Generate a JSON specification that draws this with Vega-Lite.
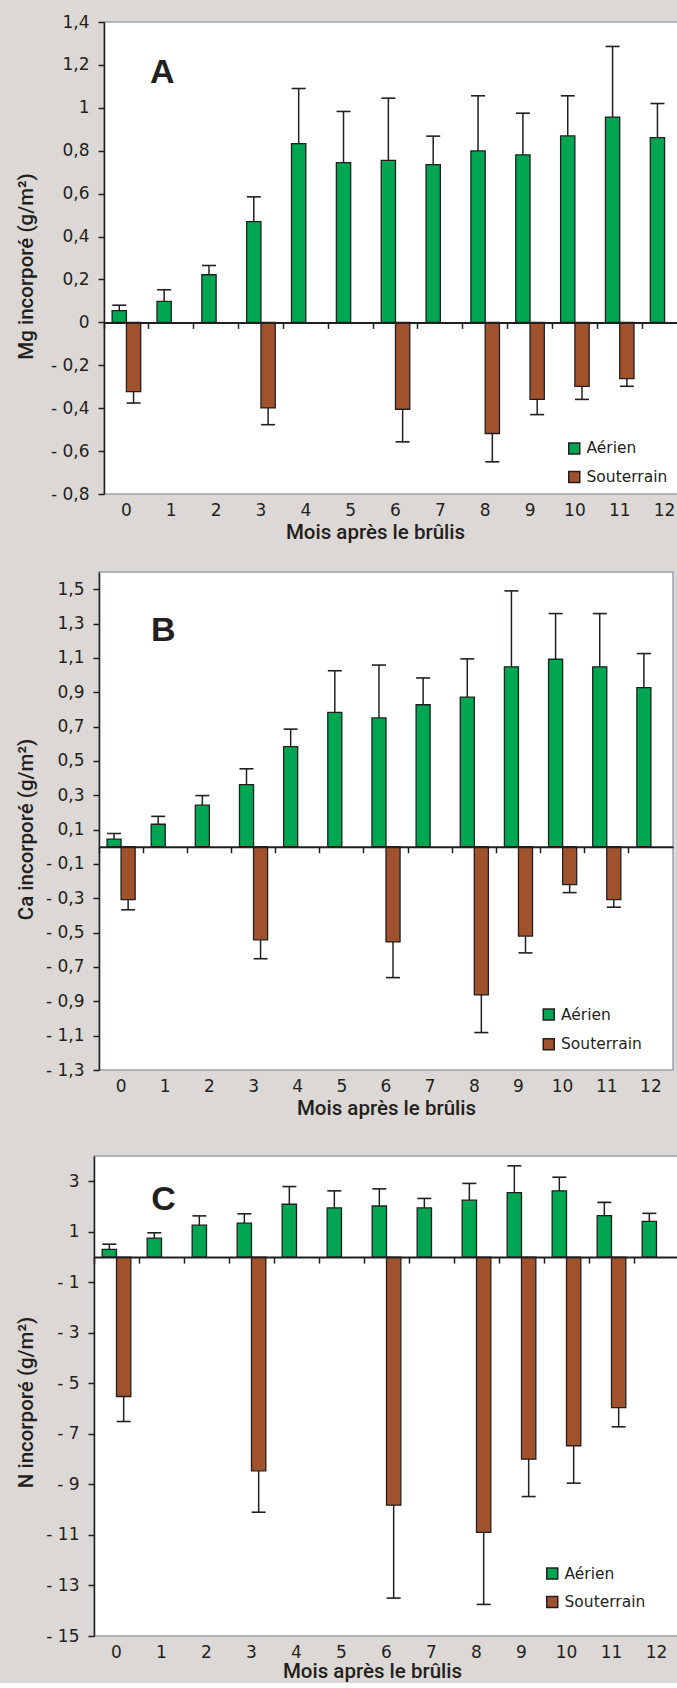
{
  "$schema": "https://vega.github.io/schema/vega-lite/v6.json",
  "background": "#dcd8d5",
  "padding": {"left": 0, "top": 12, "right": 0, "bottom": 0},
  "datasets": {
    "A": [
      {"month": 0, "type": "Aérien", "value": 0.055, "errEnd": 0.08},
      {"month": 1, "type": "Aérien", "value": 0.098, "errEnd": 0.152},
      {"month": 2, "type": "Aérien", "value": 0.222, "errEnd": 0.265},
      {"month": 3, "type": "Aérien", "value": 0.47, "errEnd": 0.585},
      {"month": 4, "type": "Aérien", "value": 0.833, "errEnd": 1.09},
      {"month": 5, "type": "Aérien", "value": 0.745, "errEnd": 0.983},
      {"month": 6, "type": "Aérien", "value": 0.755, "errEnd": 1.045},
      {"month": 7, "type": "Aérien", "value": 0.735, "errEnd": 0.868},
      {"month": 8, "type": "Aérien", "value": 0.799, "errEnd": 1.056},
      {"month": 9, "type": "Aérien", "value": 0.781, "errEnd": 0.975},
      {"month": 10, "type": "Aérien", "value": 0.869, "errEnd": 1.056},
      {"month": 11, "type": "Aérien", "value": 0.957, "errEnd": 1.286},
      {"month": 12, "type": "Aérien", "value": 0.861, "errEnd": 1.02},
      {"month": 0, "type": "Souterrain", "value": -0.323, "errEnd": -0.376},
      {"month": 3, "type": "Souterrain", "value": -0.399, "errEnd": -0.477},
      {"month": 6, "type": "Souterrain", "value": -0.405, "errEnd": -0.557},
      {"month": 8, "type": "Souterrain", "value": -0.518, "errEnd": -0.65},
      {"month": 9, "type": "Souterrain", "value": -0.359, "errEnd": -0.43},
      {"month": 10, "type": "Souterrain", "value": -0.298, "errEnd": -0.359},
      {"month": 11, "type": "Souterrain", "value": -0.262, "errEnd": -0.298}
    ],
    "B": [
      {"month": 0, "type": "Aérien", "value": 0.044, "errEnd": 0.077},
      {"month": 1, "type": "Aérien", "value": 0.131, "errEnd": 0.177},
      {"month": 2, "type": "Aérien", "value": 0.242, "errEnd": 0.298},
      {"month": 3, "type": "Aérien", "value": 0.362, "errEnd": 0.454},
      {"month": 4, "type": "Aérien", "value": 0.583, "errEnd": 0.685},
      {"month": 5, "type": "Aérien", "value": 0.783, "errEnd": 1.025},
      {"month": 6, "type": "Aérien", "value": 0.75, "errEnd": 1.058},
      {"month": 7, "type": "Aérien", "value": 0.827, "errEnd": 0.983},
      {"month": 8, "type": "Aérien", "value": 0.871, "errEnd": 1.094},
      {"month": 9, "type": "Aérien", "value": 1.048, "errEnd": 1.49},
      {"month": 10, "type": "Aérien", "value": 1.092, "errEnd": 1.358},
      {"month": 11, "type": "Aérien", "value": 1.048, "errEnd": 1.358},
      {"month": 12, "type": "Aérien", "value": 0.927, "errEnd": 1.125},
      {"month": 0, "type": "Souterrain", "value": -0.308, "errEnd": -0.367},
      {"month": 3, "type": "Souterrain", "value": -0.542, "errEnd": -0.652},
      {"month": 6, "type": "Souterrain", "value": -0.554, "errEnd": -0.762},
      {"month": 8, "type": "Souterrain", "value": -0.863, "errEnd": -1.082},
      {"month": 9, "type": "Souterrain", "value": -0.52, "errEnd": -0.618},
      {"month": 10, "type": "Souterrain", "value": -0.221, "errEnd": -0.267},
      {"month": 11, "type": "Souterrain", "value": -0.308, "errEnd": -0.352}
    ],
    "C": [
      {"month": 0, "type": "Aérien", "value": 0.3, "errEnd": 0.51},
      {"month": 1, "type": "Aérien", "value": 0.75, "errEnd": 0.96},
      {"month": 2, "type": "Aérien", "value": 1.26, "errEnd": 1.63},
      {"month": 3, "type": "Aérien", "value": 1.34, "errEnd": 1.71},
      {"month": 4, "type": "Aérien", "value": 2.09, "errEnd": 2.79},
      {"month": 5, "type": "Aérien", "value": 1.95, "errEnd": 2.62},
      {"month": 6, "type": "Aérien", "value": 2.02, "errEnd": 2.7},
      {"month": 7, "type": "Aérien", "value": 1.95, "errEnd": 2.32},
      {"month": 8, "type": "Aérien", "value": 2.25, "errEnd": 2.915},
      {"month": 9, "type": "Aérien", "value": 2.55, "errEnd": 3.61},
      {"month": 10, "type": "Aérien", "value": 2.62, "errEnd": 3.16},
      {"month": 11, "type": "Aérien", "value": 1.64, "errEnd": 2.165},
      {"month": 12, "type": "Aérien", "value": 1.415, "errEnd": 1.73},
      {"month": 0, "type": "Souterrain", "value": -5.52, "errEnd": -6.51},
      {"month": 3, "type": "Souterrain", "value": -8.46, "errEnd": -10.1},
      {"month": 6, "type": "Souterrain", "value": -9.82, "errEnd": -13.5},
      {"month": 8, "type": "Souterrain", "value": -10.9, "errEnd": -13.75},
      {"month": 9, "type": "Souterrain", "value": -8.0, "errEnd": -9.48},
      {"month": 10, "type": "Souterrain", "value": -7.47, "errEnd": -8.95},
      {"month": 11, "type": "Souterrain", "value": -5.96, "errEnd": -6.72}
    ]
  },
  "spacing": 27,
  "resolve": {
    "scale": {"x": "independent", "y": "independent", "color": "independent", "xOffset": "independent"},
    "axis": {"x": "independent", "y": "independent"},
    "legend": {"color": "independent"}
  },
  "vconcat": [
    {
      "spacing": 14,
      "hconcat": [
        {"width": 1, "height": 1, "view": {"stroke": null, "fill": null}, "data": {"values": []}, "mark": {"type": "point", "opacity": 0}, "encoding": {}},
        {
          "width": 583,
          "height": 472,
          "data": {"name": "A"},
          "resolve": {"axis": {"x": "independent"}},
          "layer": [
            {
              "mark": {"type": "bar", "stroke": "#231f20", "strokeWidth": 1.3},
              "encoding": {
                "x": {"field": "month", "type": "ordinal", "scale": {"paddingInner": 0, "paddingOuter": 0},
                  "axis": {"orient": "bottom", "domain": false, "ticks": false, "tickSize": 0, "labelAngle": 0, "labelPadding": 8, "title": "Mois après le brûlis", "titlePadding": 4, "titleX": 271}},
                "xOffset": {"field": "type", "type": "nominal", "scale": {"domain": ["Aérien", "Souterrain"], "paddingInner": 0, "paddingOuter": 0.57}},
                "y": {"field": "value", "type": "quantitative", "scale": {"domain": [-0.8, 1.4], "nice": false, "zero": false},
                  "axis": {"values": [1.4, 1.2, 1, 0.8, 0.6, 0.4, 0.2, 0, -0.2, -0.4, -0.6, -0.8], "tickCount": 30, "labelOverlap": false, "labelExpr": "(datum.value < 0 ? '- ' : '') + replace(format(abs(datum.value), '.2~f'), '.', ',')", "title": "Mg incorporé (g/m²)", "titlePadding": 13.7, "titleY": 244}},
                "color": {"field": "type", "type": "nominal", "scale": {"domain": ["Aérien", "Souterrain"], "range": ["#00a651", "#a0522d"]},
                  "legend": {"orient": "none", "legendX": 566.5, "legendY": 418.7, "title": null}}
              }
            },
            {
              "mark": {"type": "rule", "color": "#231f20", "strokeWidth": 1.5},
              "encoding": {
                "x": {"field": "month", "type": "ordinal",
                  "axis": {"orient": "bottom", "offset": -171.6, "labels": false, "title": null, "domain": true, "domainColor": "#231f20", "domainWidth": 2, "ticks": true, "tickSize": 6, "tickWidth": 1.5, "tickColor": "#231f20", "bandPosition": 0, "tickExtra": false, "zindex": 2}},
                "xOffset": {"field": "type", "type": "nominal"},
                "y": {"field": "value", "type": "quantitative", "title": "Mg incorporé (g/m²)", "scale": {"domain": [-0.8, 1.4], "nice": false, "zero": false}},
                "y2": {"field": "errEnd"}
              }
            },
            {
              "mark": {"type": "tick", "orient": "horizontal", "size": 14, "thickness": 1.6, "color": "#231f20", "opacity": 1},
              "encoding": {
                "x": {"field": "month", "type": "ordinal", "axis": null},
                "xOffset": {"field": "type", "type": "nominal"},
                "y": {"field": "errEnd", "type": "quantitative", "title": "Mg incorporé (g/m²)", "scale": {"domain": [-0.8, 1.4], "nice": false, "zero": false}}
              }
            },
            {
              "data": {"values": [{"letter": "A"}]},
              "mark": {"type": "text", "font": "Liberation Sans", "fontWeight": "bold", "fontSize": 34, "color": "#231f20", "baseline": "alphabetic", "align": "center", "dx": -9},
              "encoding": {
                "x": {"datum": 1, "type": "ordinal", "axis": null},
                "y": {"datum": 1.116, "type": "quantitative"},
                "text": {"field": "letter"}
              }
            }
          ]
        }
      ]
    },
    {
      "spacing": 35,
      "resolve": {
        "scale": {"x": "independent", "y": "independent", "color": "independent", "xOffset": "independent"},
        "axis": {"x": "independent", "y": "independent"},
        "legend": {"color": "independent"}
      },
      "vconcat": [
        {
          "spacing": 14,
          "hconcat": [
            {"width": 1, "height": 1, "view": {"stroke": null, "fill": null}, "data": {"values": []}, "mark": {"type": "point", "opacity": 0}, "encoding": {}},
            {
              "width": 574,
              "height": 498,
              "data": {"name": "B"},
              "resolve": {"axis": {"x": "independent"}},
              "layer": [
                {
                  "mark": {"type": "bar", "stroke": "#231f20", "strokeWidth": 1.3},
                  "encoding": {
                    "x": {"field": "month", "type": "ordinal", "scale": {"paddingInner": 0, "paddingOuter": 0},
                      "axis": {"orient": "bottom", "domain": false, "ticks": false, "tickSize": 0, "labelAngle": 0, "labelPadding": 8, "title": "Mois après le brûlis", "titlePadding": 4}},
                    "xOffset": {"field": "type", "type": "nominal", "scale": {"domain": ["Aérien", "Souterrain"], "paddingInner": 0, "paddingOuter": 0.57}},
                    "y": {"field": "value", "type": "quantitative", "scale": {"domain": [-1.3, 1.6], "nice": false, "zero": false},
                      "axis": {"values": [1.5, 1.3, 1.1, 0.9, 0.7, 0.5, 0.3, 0.1, -0.1, -0.3, -0.5, -0.7, -0.9, -1.1, -1.3], "tickCount": 30, "labelOverlap": false, "labelBound": false, "labelExpr": "(datum.value < 0 ? '- ' : '') + replace(format(abs(datum.value), '.2~f'), '.', ',')", "title": "Ca incorporé (g/m²)", "titlePadding": 9.3, "titleY": 257}},
                    "color": {"field": "type", "type": "nominal", "scale": {"domain": ["Aérien", "Souterrain"], "range": ["#00a651", "#a0522d"]},
                      "legend": {"orient": "none", "legendX": 541, "legendY": 434.8, "title": null, "rowPadding": 11.8}}
                  }
                },
                {
                  "mark": {"type": "rule", "color": "#231f20", "strokeWidth": 1.5},
                  "encoding": {
                    "x": {"field": "month", "type": "ordinal",
                      "axis": {"orient": "bottom", "offset": -223.2, "labels": false, "title": null, "domain": true, "domainColor": "#231f20", "domainWidth": 2, "ticks": true, "tickSize": 6, "tickWidth": 1.5, "tickColor": "#231f20", "bandPosition": 0, "tickExtra": false, "zindex": 2}},
                    "xOffset": {"field": "type", "type": "nominal"},
                    "y": {"field": "value", "type": "quantitative", "title": "Ca incorporé (g/m²)", "scale": {"domain": [-1.3, 1.6], "nice": false, "zero": false}},
                    "y2": {"field": "errEnd"}
                  }
                },
                {
                  "mark": {"type": "tick", "orient": "horizontal", "size": 14, "thickness": 1.6, "color": "#231f20", "opacity": 1},
                  "encoding": {
                    "x": {"field": "month", "type": "ordinal", "axis": null},
                    "xOffset": {"field": "type", "type": "nominal"},
                    "y": {"field": "errEnd", "type": "quantitative", "title": "Ca incorporé (g/m²)", "scale": {"domain": [-1.3, 1.6], "nice": false, "zero": false}}
                  }
                },
                {
                  "data": {"values": [{"letter": "B"}]},
                  "mark": {"type": "text", "font": "Liberation Sans", "fontWeight": "bold", "fontSize": 34, "color": "#231f20", "baseline": "alphabetic", "align": "center", "dx": -2},
                  "encoding": {
                    "x": {"datum": 1, "type": "ordinal", "axis": null},
                    "y": {"datum": 1.2, "type": "quantitative"},
                    "text": {"field": "letter"}
                  }
                }
              ]
            }
          ]
        },
        {
          "spacing": 14,
          "hconcat": [
            {"width": 1, "height": 1, "view": {"stroke": null, "fill": null}, "data": {"values": []}, "mark": {"type": "point", "opacity": 0}, "encoding": {}},
            {
              "width": 585,
              "height": 480,
              "data": {"name": "C"},
              "resolve": {"axis": {"x": "independent"}},
              "layer": [
                {
                  "mark": {"type": "bar", "stroke": "#231f20", "strokeWidth": 1.3},
                  "encoding": {
                    "x": {"field": "month", "type": "ordinal", "scale": {"paddingInner": 0, "paddingOuter": 0},
                      "axis": {"orient": "bottom", "domain": false, "ticks": false, "tickSize": 0, "labelAngle": 0, "labelPadding": 8, "title": "Mois après le brûlis", "titlePadding": 1.5, "titleX": 278}},
                    "xOffset": {"field": "type", "type": "nominal", "scale": {"domain": ["Aérien", "Souterrain"], "paddingInner": 0, "paddingOuter": 0.57}},
                    "y": {"field": "value", "type": "quantitative", "scale": {"domain": [-15, 4], "nice": false, "zero": false},
                      "axis": {"values": [3, 1, -1, -3, -5, -7, -9, -11, -13, -15], "tickCount": 30, "labelOverlap": false, "labelExpr": "(datum.value < 0 ? '- ' : '') + replace(format(abs(datum.value), '.2~f'), '.', ',')", "title": "N incorporé (g/m²)", "titlePadding": 9.1, "titleY": 246}},
                    "color": {"field": "type", "type": "nominal", "scale": {"domain": ["Aérien", "Souterrain"], "range": ["#00a651", "#a0522d"]},
                      "legend": {"orient": "none", "legendX": 544.5, "legendY": 409.8, "title": null}}
                  }
                },
                {
                  "mark": {"type": "rule", "color": "#231f20", "strokeWidth": 1.5},
                  "encoding": {
                    "x": {"field": "month", "type": "ordinal",
                      "axis": {"orient": "bottom", "offset": -378.9, "labels": false, "title": null, "domain": true, "domainColor": "#231f20", "domainWidth": 2, "ticks": true, "tickSize": 6, "tickWidth": 1.5, "tickColor": "#231f20", "bandPosition": 0, "tickExtra": false, "zindex": 2}},
                    "xOffset": {"field": "type", "type": "nominal"},
                    "y": {"field": "value", "type": "quantitative", "title": "N incorporé (g/m²)", "scale": {"domain": [-15, 4], "nice": false, "zero": false}},
                    "y2": {"field": "errEnd"}
                  }
                },
                {
                  "mark": {"type": "tick", "orient": "horizontal", "size": 14, "thickness": 1.6, "color": "#231f20", "opacity": 1},
                  "encoding": {
                    "x": {"field": "month", "type": "ordinal", "axis": null},
                    "xOffset": {"field": "type", "type": "nominal"},
                    "y": {"field": "errEnd", "type": "quantitative", "title": "N incorporé (g/m²)", "scale": {"domain": [-15, 4], "nice": false, "zero": false}}
                  }
                },
                {
                  "data": {"values": [{"letter": "C"}]},
                  "mark": {"type": "text", "font": "Liberation Sans", "fontWeight": "bold", "fontSize": 34, "color": "#231f20", "baseline": "alphabetic", "align": "center", "dx": 2},
                  "encoding": {
                    "x": {"datum": 1, "type": "ordinal", "axis": null},
                    "y": {"datum": 1.87, "type": "quantitative"},
                    "text": {"field": "letter"}
                  }
                }
              ]
            }
          ]
        }
      ]
    }
  ],
  "config": {
    "view": {"fill": "white", "stroke": "#9ca3aa", "strokeWidth": 1.5},
    "axis": {"labelFont": "DejaVu Sans", "labelFontSize": 17, "labelColor": "#231f20", "labelOverlap": false, "titleFont": "Roboto", "titleFontSize": 20.5, "titleFontWeight": 500, "titleColor": "#231f20", "grid": false, "domainColor": "#231f20", "tickColor": "#231f20"},
    "axisY": {"domainWidth": 1.5, "tickWidth": 1.5, "tickSize": 6, "labelPadding": 9, "zindex": 1},
    "legend": {"labelFont": "DejaVu Sans", "labelFontSize": 15.5, "labelColor": "#231f20", "symbolType": "square", "symbolSize": 121, "symbolStrokeColor": "#231f20", "symbolStrokeWidth": 1.5, "symbolOpacity": 1, "rowPadding": 10.5, "labelOffset": 4.5, "padding": 0}
  }
}
